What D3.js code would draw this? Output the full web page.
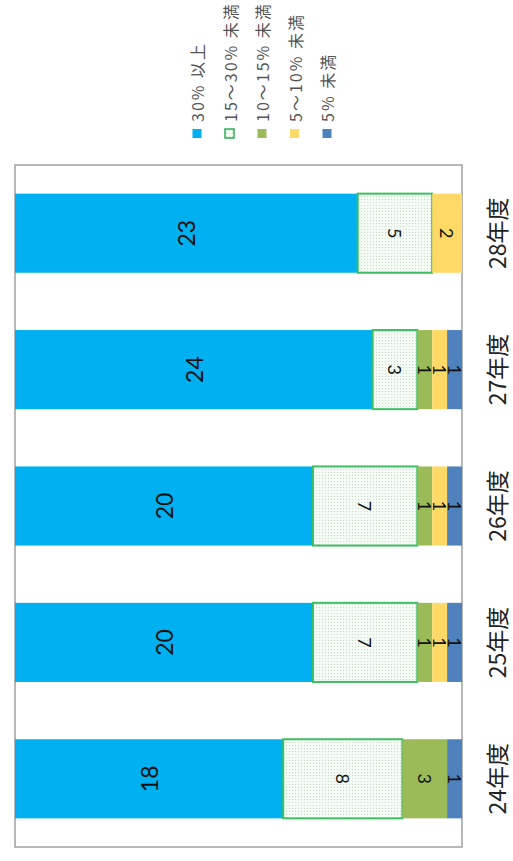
<!DOCTYPE html>
<html><head><meta charset="utf-8">
<script src="https://cdn.jsdelivr.net/npm/d3@7"></script>
<style>html,body{margin:0;padding:0;background:#fff;}svg{display:block;}</style>
</head><body>
<svg id="c" width="513" height="861"></svg>
<script>
const categories = ["24年度", "25年度", "26年度", "27年度", "28年度"];
const seriesNames = ["30% 以上", "15～30% 未満", "10～15% 未満", "5～10% 未満", "5% 未満"];
const s30plus  = [18, 20, 20, 24, 23];
const s15to30  = [8, 7, 7, 3, 5];
const s10to15  = [3, 1, 1, 1, 0];
const s5to10   = [0, 1, 1, 1, 2];
const s5under  = [1, 1, 1, 1, 0];
const totalMax = 30;

const seriesValues = [s30plus, s15to30, s10to15, s5to10, s5under];
const colors = ["#00B0F0", "url(#dots)", "#9BBB59", "#FFD966", "#4F81BD"];

const svg = d3.select("#c");
const defs = svg.append("defs");
const pat = defs.append("pattern").attr("id", "dots").attr("patternUnits", "userSpaceOnUse")
  .attr("width", 3).attr("height", 3);
pat.append("rect").attr("width", 3).attr("height", 3).attr("fill", "#F4FBF5");
pat.append("rect").attr("x", 1).attr("y", 1).attr("width", 1).attr("height", 1).attr("fill", "#C9DCCB");

const plot = {left: 15, right: 462, top: 165, bottom: 847};

const x = d3.scaleLinear().domain([0, totalMax]).range([plot.left, plot.right]);
const y = d3.scaleBand().domain(categories.slice().reverse())
  .range([plot.top, plot.bottom]).paddingInner(0.42).paddingOuter(0.21);

// plot border
svg.append("rect").attr("x", plot.left).attr("y", plot.top)
  .attr("width", plot.right - plot.left).attr("height", plot.bottom - plot.top)
  .attr("fill", "none").attr("stroke", "#A0A0A0").attr("stroke-width", 1.5);

// stack data
const rows = categories.map((c, i) => {
  const r = {cat: c};
  seriesNames.forEach((s, k) => r[s] = seriesValues[k][i]);
  return r;
});
const stacked = d3.stack().keys(seriesNames)(rows);

stacked.forEach((layer, k) => {
  const g = svg.append("g");
  g.selectAll("rect").data(layer.filter(d => d[1] - d[0] > 0)).join("rect")
    .attr("x", d => x(d[0]))
    .attr("y", d => y(d.data.cat))
    .attr("width", d => x(d[1]) - x(d[0]))
    .attr("height", y.bandwidth())
    .attr("fill", colors[k])
    .attr("stroke", k === 1 ? "#3DBE62" : "none")
    .attr("stroke-width", k === 1 ? 2 : 0);
});

// value labels
stacked.forEach((layer, k) => {
  const g = svg.append("g");
  g.selectAll("text").data(layer.filter(d => d[1] - d[0] > 0)).join("text")
    .attr("transform", d => {
      const cx = (x(d[0]) + x(d[1])) / 2, cy = y(d.data.cat) + y.bandwidth() / 2;
      return `translate(${cx},${cy}) rotate(${k === 0 ? -90 : 90})`;
    })
    .attr("text-anchor", "middle").attr("dominant-baseline", "central")
    .attr("font-family", "Lato, 'Noto Sans', sans-serif")
    .attr("font-size", k === 0 ? 23 : 18)
    .attr("fill", "#111")
    .text(d => d[1] - d[0]);
});

// category labels
svg.append("g").selectAll("text").data(categories).join("text")
  .attr("transform", d => `translate(496,${y(d) + y.bandwidth() / 2}) rotate(-90)`)
  .attr("text-anchor", "middle").attr("dominant-baseline", "central")
  .attr("font-family", "'Noto Sans CJK JP', sans-serif")
  .attr("font-size", 23).attr("fill", "#222")
  .text(d => d);

// legend
const lg = svg.append("g");
seriesNames.forEach((s, k) => {
  const lx = 197 + k * 32.5;
  lg.append("rect").attr("x", lx - 4.5).attr("y", 129).attr("width", 9).attr("height", 9)
    .attr("fill", colors[k])
    .attr("stroke", k === 1 ? "#2DAE55" : "none").attr("stroke-width", k === 1 ? 1.5 : 0);
  lg.append("text")
    .attr("transform", `translate(${lx},122) rotate(-90)`)
    .attr("text-anchor", "start").attr("dominant-baseline", "central")
    .attr("font-family", "'Noto Sans CJK JP', sans-serif")
    .attr("font-size", 16).attr("letter-spacing", 2).attr("fill", "#555")
    .text(s);
});
</script>
</body></html>
